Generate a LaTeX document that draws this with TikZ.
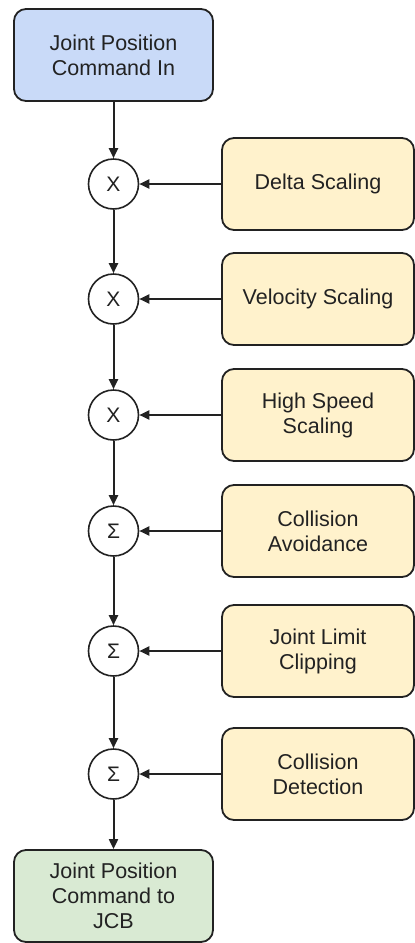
\documentclass[tikz,border=0pt]{standalone}
\usepackage{fontspec}
\setmainfont{Liberation Sans}
\usetikzlibrary{arrows.meta}
\definecolor{edge}{HTML}{222222}
\definecolor{inblue}{HTML}{C9DAF8}
\definecolor{outgreen}{HTML}{D9EAD3}
\definecolor{gainyellow}{HTML}{FFF2CC}
\tikzset{
  block/.style={draw=edge,line width=1.8pt,rounded corners=12pt,minimum width=199pt,minimum height=92pt,align=center,text=edge,font=\fontsize{21.5}{25}\selectfont},
  side/.style={block,fill=gainyellow,minimum width=192pt},
  sum/.style={draw=edge,circle,line width=1.6pt,fill=white,minimum size=50pt,inner sep=0pt,text=edge,font=\fontsize{21}{24}\selectfont},
  link/.style={->,draw=edge,line width=2pt}
}

\begin{document}
\begin{tikzpicture}[x=1pt,y=1pt,>={Triangle[length=10pt,width=9pt]}]
  \useasboundingbox (0,0) rectangle (415,-943);
  \node[block,fill=inblue] (in) at (113.5,-55) {Joint Position\\Command In};
  \node[sum] (m1) at (113.5,-184) {X};
  \node[sum] (m2) at (113.5,-299) {X};
  \node[sum] (m3) at (113.5,-415) {X};
  \node[sum] (s1) at (113.5,-531) {Σ};
  \node[sum] (s2) at (113.5,-651) {Σ};
  \node[sum] (s3) at (113.5,-774) {Σ};
  \node[block,fill=outgreen] (out) at (113.5,-896) {Joint Position\\Command to\\JCB};
  \node[side] (delta) at (318,-184) {Delta Scaling};
  \node[side] (vel) at (318,-299) {Velocity Scaling};
  \node[side] (hss) at (318,-415) {High Speed\\Scaling};
  \node[side] (cav) at (318,-531) {Collision\\Avoidance};
  \node[side] (jlc) at (318,-651) {Joint Limit\\Clipping};
  \node[side] (cdet) at (318,-774) {Collision\\Detection};
  \draw[link] (in) -- (m1);
  \draw[link] (m1) -- (m2);
  \draw[link] (m2) -- (m3);
  \draw[link] (m3) -- (s1);
  \draw[link] (s1) -- (s2);
  \draw[link] (s2) -- (s3);
  \draw[link] (s3) -- (out);
  \draw[link] (delta) -- (m1);
  \draw[link] (vel) -- (m2);
  \draw[link] (hss) -- (m3);
  \draw[link] (cav) -- (s1);
  \draw[link] (jlc) -- (s2);
  \draw[link] (cdet) -- (s3);
\end{tikzpicture}
\end{document}
